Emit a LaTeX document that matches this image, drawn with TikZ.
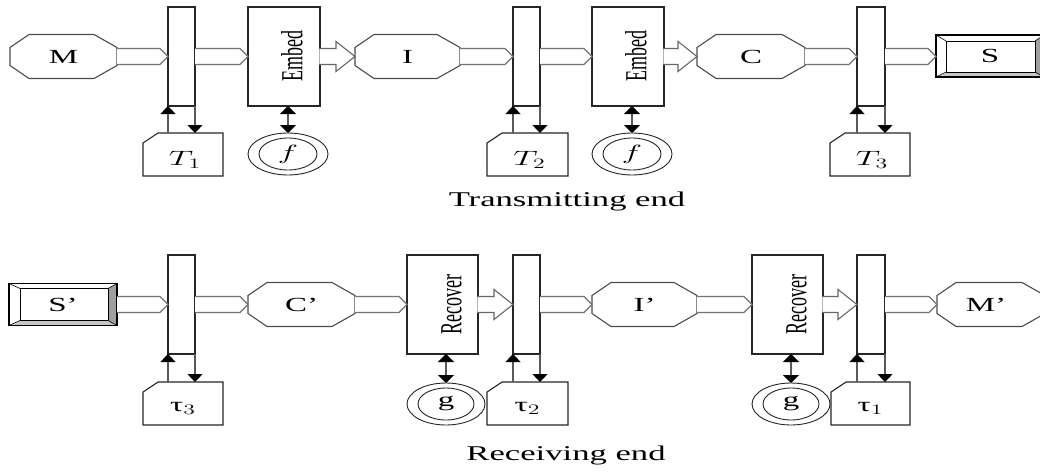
\documentclass[tikz,border=0pt]{standalone}
\usepackage{fontspec}
\setmainfont{Liberation Serif}
\usetikzlibrary{arrows.meta,calc,shapes.geometric}
\newcommand\lab[1]{{\fontsize{20}{22}\selectfont\scalebox{1.65}[1]{#1}}}
\newcommand\caplab[1]{{\fontsize{21}{24}\selectfont\scalebox{1.65}[1]{#1}}}
\newcommand\vlab[1]{\rotatebox{90}{\fontsize{18}{20}\selectfont\scalebox{1}[1.7]{#1}}}
\newcommand\octo[1]{\draw[octline] ($(#1.north west)+(19,0)$) -- ($(#1.north east)+(-23,0)$) -- ($(#1.north east)+(0,13)$) -- ($(#1.south east)+(0,-13)$) -- ($(#1.south east)+(-23,0)$) -- ($(#1.south west)+(19,0)$) -- ($(#1.south west)+(0,-13)$) -- ($(#1.north west)+(0,13)$) -- cycle;}
\newcommand\tbox[1]{\draw[boxline] ($(#1.north west)+(15,0)$) -- (#1.north east) -- (#1.south east) -- (#1.south west) -- ($(#1.north west)+(0,10)$) -- cycle;}
\newcommand\fat[2]{\filldraw[fatline] let \p1=(#1.east), \p2=(#2.west) in (\x1,{\y1+8pt}) -- ({\x2-8pt},{\y1+8pt}) -- (\x2,\y1) -- ({\x2-8pt},{\y1-8pt}) -- (\x1,{\y1-8pt});}
\newcommand\bigarr[2]{\filldraw[bigline] let \p1=(#1.east), \p2=(#2.west) in ({\x1-0.7pt},{\y1+8pt}) -- ({\x2-19pt},{\y1+8pt}) -- ({\x2-19pt},{\y1+15pt}) -- (\x2,\y1) -- ({\x2-19pt},{\y1-15pt}) -- ({\x2-19pt},{\y1-8pt}) -- ({\x1-0.7pt},{\y1-8pt});}
% bevel box: name, left, right, top, bottom widths
\newcommand\bevel[5]{%
  \coordinate (a) at (#1.north west); \coordinate (b) at (#1.north east);
  \coordinate (c) at (#1.south east); \coordinate (d) at (#1.south west);
  \coordinate (ia) at ($(a)+(#2,#4)$); \coordinate (ib) at ($(b)+(-#3,#4)$);
  \coordinate (ic) at ($(c)+(-#3,-#5)$); \coordinate (id) at ($(d)+(#2,-#5)$);
  \fill[white] (a) rectangle (c);
  \fill[gray!45] (d) -- (c) -- (ic) -- (id) -- cycle;
  \fill[gray!75] (b) -- (c) -- (ic) -- (ib) -- cycle;
  \draw[black,line width=1.1pt] (a) rectangle (c);
  \draw[black,line width=1pt] (ia) rectangle (ic);
  \draw[black,line width=0.6pt] (a) -- (ia) (b) -- (ib) (c) -- (ic) (d) -- (id);}
\begin{document}
\begin{tikzpicture}[x=1pt,y=-1pt,
  base/.style={rectangle,inner sep=0pt,outer sep=0pt},
  boxline/.style={draw=black!85,line width=1.1pt,fill=white},
  octline/.style={draw=black!70,line width=1.1pt,fill=white},
  fatline/.style={draw=black!55,line width=1.1pt,fill=white},
  bigline/.style={draw=black!60,line width=1.1pt,fill=white},
  barbox/.style={base,boxline,minimum width=27pt,minimum height=99pt},
  procbox/.style={base,boxline,minimum width=72pt,minimum height=99pt},
  octbox/.style={base,minimum width=#1,minimum height=44pt},
  keybox/.style={base,minimum width=80pt,minimum height=43pt},
  bevbox/.style={base,minimum width=#1,minimum height=42pt},
  ring/.style={ellipse,inner sep=0pt,outer sep=0pt,draw=black!85,line width=0.9pt,fill=white,minimum width=80pt,minimum height=42pt},
  uparr/.style={draw=black!65,line width=1.3pt,-{Triangle[width=15pt,length=8pt,color=black]}},
  dblarr/.style={draw=black!65,line width=2pt,{Triangle[width=16pt,length=8pt,color=black]}-{Triangle[width=16pt,length=8pt,color=black]}}
]
\useasboundingbox (0,0) rectangle (1040,471);

%================ transmitting end ================
\node[octbox=107pt] (M) at (63.5,56.5) {};
\node[barbox] (b1) at (181.5,56.5) {};
\node[procbox] (E1) at (284,56.5) {};
\node[octbox=105pt] (I) at (407.5,56.5) {};
\node[barbox] (b2) at (526.5,56.5) {};
\node[procbox] (E2) at (628,56.5) {};
\node[octbox=108pt] (C) at (751,56.5) {};
\node[barbox,minimum width=28pt] (b3) at (871,56.5) {};
\node[bevbox=108pt] (S) at (990,56) {};
\node[keybox] (T1) at (183,154.5) {};
\node[keybox,minimum width=81pt] (T2) at (527.5,154.5) {};
\node[keybox] (T3) at (870,154.5) {};
\node[ring] (f1) at (288,154) {};
\node[ring] (f2) at (632,154) {};

\octo{M}\octo{I}\octo{C}
\bevel{S}{10}{9}{6}{5}
\tbox{T1}\tbox{T2}\tbox{T3}
\draw[black!85,line width=0.9pt] (f1.center) ellipse [x radius=29, y radius=16];
\draw[black!85,line width=0.9pt] (f2.center) ellipse [x radius=29, y radius=16];

\fat{M}{b1}\fat{b1}{E1}
\bigarr{E1}{I}
\fat{I}{b2}\fat{b2}{E2}
\bigarr{E2}{C}
\fat{C}{b3}\fat{b3}{S}

\draw[uparr] (T1.north -| b1.south west) -- (b1.south west);
\draw[uparr] (b1.south east) -- (b1.south east |- T1.north);
\draw[uparr] (T2.north -| b2.south west) -- (b2.south west);
\draw[uparr] (b2.south east) -- (b2.south east |- T2.north);
\draw[uparr] (T3.north -| b3.south west) -- (b3.south west);
\draw[uparr] (b3.south east) -- (b3.south east |- T3.north);
\draw[dblarr] (f1.north) -- (f1.north |- E1.south);
\draw[dblarr] (f2.north) -- (f2.north |- E2.south);

\node at (M.center) {\lab{M}};
\node at (I.center) {\lab{I}};
\node at (C.center) {\lab{C}};
\node at (S.center) {\lab{S}};
\node at ($(E1.center)+(8,0)$) {\vlab{Embed}};
\node at ($(E2.center)+(8,0)$) {\vlab{Embed}};
\node at ($(T1.center)+(2,5)$) {\lab{$T_1$}};
\node at ($(T2.center)+(2,5)$) {\lab{$T_2$}};
\node at ($(T3.center)+(2,5)$) {\lab{$T_3$}};
\node at (f1.center) {\lab{$f$}};
\node at (f2.center) {\lab{$f$}};
\node (tx) at (567,201) {\caplab{Transmitting end}};

%================ receiving end ================
\node[bevbox=108pt] (Sp) at (63,304.5) {};
\node[barbox] (b4) at (181.5,304.5) {};
\node[octbox=107pt] (Cp) at (301.5,304.5) {};
\node[procbox,minimum width=71pt] (R1) at (442.5,304.5) {};
\node[barbox] (b5) at (526.5,304.5) {};
\node[octbox=105pt] (Ip) at (644.5,304.5) {};
\node[procbox,minimum width=71pt] (R2) at (787.5,304.5) {};
\node[barbox,minimum width=28pt] (b6) at (871,304.5) {};
\node[octbox=108pt] (Mp) at (991,304.5) {};
\node[keybox] (t3) at (183,403.5) {};
\node[keybox,minimum width=81pt] (t2) at (527.5,403.5) {};
\node[keybox,minimum width=79pt] (t1) at (870.5,403.5) {};
\node[ring,minimum width=78pt] (g1) at (446,404) {};
\node[ring,minimum width=78pt] (g2) at (791,404) {};

\bevel{Sp}{11}{9}{5}{5}
\octo{Cp}\octo{Ip}\octo{Mp}
\tbox{t3}\tbox{t2}\tbox{t1}
\draw[black!85,line width=0.9pt] (g1.center) ellipse [x radius=28, y radius=16];
\draw[black!85,line width=0.9pt] (g2.center) ellipse [x radius=28, y radius=16];

\fat{Sp}{b4}\fat{b4}{Cp}\fat{Cp}{R1}
\bigarr{R1}{b5}
\fat{b5}{Ip}\fat{Ip}{R2}
\bigarr{R2}{b6}
\fat{b6}{Mp}

\draw[uparr] (t3.north -| b4.south west) -- (b4.south west);
\draw[uparr] (b4.south east) -- (b4.south east |- t3.north);
\draw[uparr] (t2.north -| b5.south west) -- (b5.south west);
\draw[uparr] (b5.south east) -- (b5.south east |- t2.north);
\draw[uparr] (t1.north -| b6.south west) -- (b6.south west);
\draw[uparr] (b6.south east) -- (b6.south east |- t1.north);
\draw[dblarr] (g1.north) -- (g1.north |- R1.south);
\draw[dblarr] (g2.north) -- (g2.north |- R2.south);

\node at (Sp.center) {\lab{S’}};
\node at (Cp.center) {\lab{C’}};
\node at (Ip.center) {\lab{I’}};
\node at ($(Mp.center)+(-5,0)$) {\lab{M’}};
\node at ($(R1.center)+(9,0)$) {\vlab{Recover}};
\node at ($(R2.center)+(9,0)$) {\vlab{Recover}};
\node at ($(t3.center)+(0,5)$) {\lab{τ$_3$}};
\node at ($(t2.center)+(0,5)$) {\lab{τ$_2$}};
\node at ($(t1.center)+(0,5)$) {\lab{τ$_1$}};
\node at (g1.center) {\lab{g}};
\node at (g2.center) {\lab{g}};
\node (rx) at (566,455) {\caplab{Receiving end}};
\end{tikzpicture}
\end{document}
